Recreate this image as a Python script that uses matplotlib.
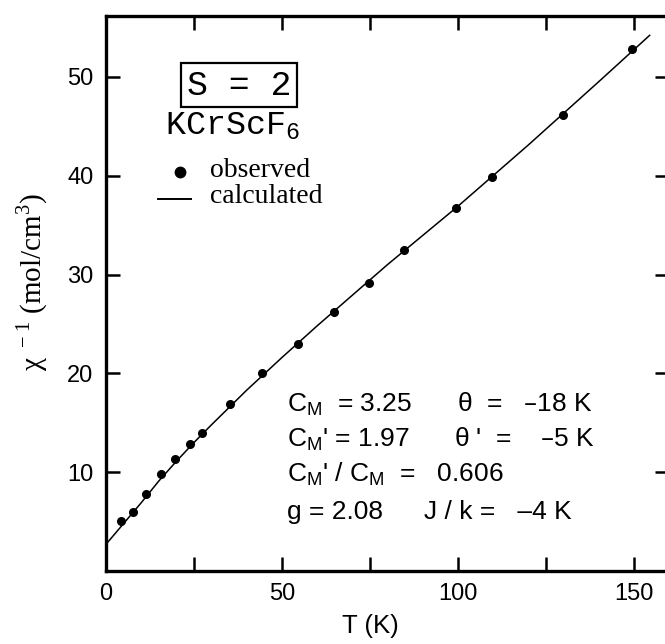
# Inverse susceptibility of KCrScF6 vs temperature.

import matplotlib
matplotlib.use('Agg')
import matplotlib.pyplot as plt


# --------------------------- DATA ---------------------------

# Observed points.
T_obs = [4.3, 7.7, 11.5, 15.7, 19.5, 23.9, 27.4, 35.3, 44.4, 54.5, 64.7,
         74.7, 84.6, 99.5, 109.7, 129.8, 149.6]                     # [K]
chi_inv_obs = [5.1, 6.0, 7.8, 9.8, 11.3, 12.8, 14.0, 16.9, 20.0, 23.0, 26.2,
               29.1, 32.5, 36.7, 39.9, 46.1, 52.8]                  # [mol/cm^3]

# Calculated curve.
T_calc = [0, 5, 10, 15, 20, 25, 30, 40, 50, 60, 80, 100, 120, 140, 154.5]
chi_inv_calc = [2.7, 4.8, 6.9, 9.1, 11.1, 13.0, 14.8, 18.3, 21.6, 24.8, 31.0,
                36.9, 43.1, 49.5, 54.2]

# Axis ticks.
x_ticks = [0, 25, 50, 75, 100, 125, 150]
x_ticklabels = ['0', '', '50', '', '100', '', '150']
y_ticks = [10, 20, 30, 40, 50]

# Fit parameter text: (left column, right column).
param_rows = [
    (r'C$_\mathregular{M}$  = 3.25', r'$\mathregular{\theta}$  =   –18 K'),
    (r"C$_\mathregular{M}$' = 1.97", r"$\mathregular{\theta}$ '  =    –5 K"),
    (r"C$_\mathregular{M}$' / C$_\mathregular{M}$  =   0.606", ''),
    ('g = 2.08', 'J / k =   –4 K'),
]


# --------------------------- PLOT ---------------------------

sans = 'Liberation Sans'
serif = 'Liberation Serif'
mono = 'Liberation Mono'

fig = plt.figure(figsize=(6.65, 6.44), dpi=100)
ax = fig.add_axes([0.1594, 0.1134, 0.8466, 0.8624])

ax.plot(T_calc, chi_inv_calc, color='black', lw=1.1)
ax.plot(T_obs, chi_inv_obs, 'o', color='black', ms=5.5)

ax.set_xlim(0, 160)
ax.set_ylim(0, 56.2)
ax.set_xticks(x_ticks)
ax.set_xticklabels(x_ticklabels)
ax.set_yticks(y_ticks)
ax.tick_params(direction='in', length=10, width=1.8, top=True, right=True,
               labelsize=17, pad=9)
for lbl in ax.get_xticklabels() + ax.get_yticklabels():
    lbl.set_family(sans)
for s in ax.spines.values():
    s.set_linewidth(2.4)

ax.set_xlabel('T (K)', family=sans, fontsize=18.5)
ax.xaxis.set_label_coords(0.469, -0.077)
ax.set_ylabel(r'$\mathregular{\chi}^{\mathregular{\ -1}}$ (mol/cm$^\mathregular{3}$)',
              family=serif, fontsize=21)
ax.yaxis.set_label_coords(-0.099, 0.52)

# Box label and compound name.
ax.text(0.236, 0.875, 'S = 2', transform=ax.transAxes, family=mono, fontsize=25,
        ha='center', va='center',
        bbox=dict(boxstyle='square,pad=0.17', fc='white', ec='black', lw=1.6))
ax.text(0.104, 0.786, r'KCrScF$_\mathregular{6}$', transform=ax.transAxes,
        family=mono, fontsize=24, va='baseline')

# Legend, drawn by hand.
ax.plot([0.131], [0.718], 'o', color='black', ms=7.5, transform=ax.transAxes)
ax.text(0.184, 0.709, 'observed', transform=ax.transAxes, family=serif,
        fontsize=20, va='baseline')
ax.plot([0.092, 0.151], [0.669, 0.669], color='black', lw=1.4,
        transform=ax.transAxes)
ax.text(0.184, 0.662, 'calculated', transform=ax.transAxes, family=serif,
        fontsize=20, va='baseline')

# Fit parameters.
row_y = [0.2875, 0.2245, 0.1615, 0.0931]
col_x = [0.6234, 0.619, 0.621, 0.565]
for (a, b), y, xb in zip(param_rows, row_y, col_x):
    ax.text(0.3215, y, a, transform=ax.transAxes, family=sans, fontsize=19,
            va='baseline')
    if b:
        ax.text(xb, y, b, transform=ax.transAxes, family=sans, fontsize=19,
                va='baseline')

fig.savefig('out.png', dpi=100)
